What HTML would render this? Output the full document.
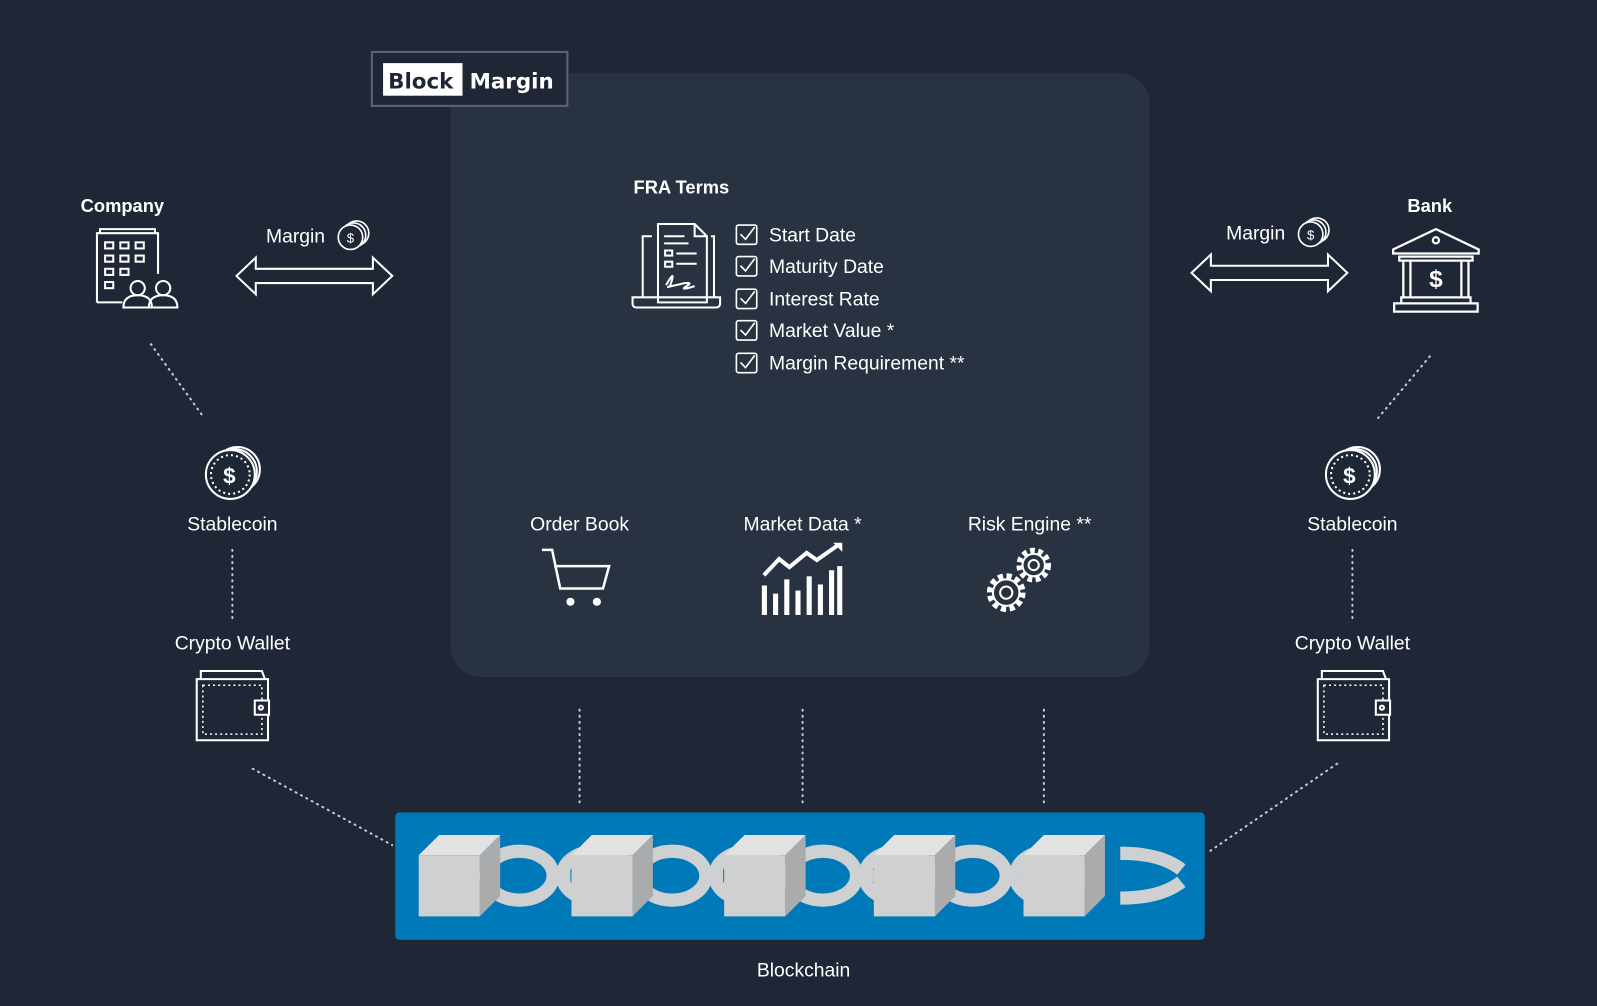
<!DOCTYPE html>
<html><head><meta charset="utf-8"><style>
html,body{margin:0;padding:0;background:#1f2736;}
svg{display:block}
text{font-family:"Liberation Sans",sans-serif;fill:#fff;}
</style></head><body>
<svg width="1597" height="1006" viewBox="0 0 1568 988" xmlns="http://www.w3.org/2000/svg">
<rect width="1568" height="988" fill="#1f2736"/>
<rect x="442" y="72" width="687" height="593" rx="30" fill="#283241"/>
<!-- logo -->
<rect x="365" y="51" width="192" height="53" fill="#1f2736" stroke="#5d6573" stroke-width="2"/>
<rect x="376" y="62" width="78" height="32" fill="#fff"/>
<text x="381" y="87" style="font-family:'DejaVu Sans',sans-serif;font-weight:bold;font-size:21px;fill:#1f2736">Block</text>
<text x="461" y="87" style="font-family:'DejaVu Sans',sans-serif;font-weight:bold;font-size:21px">Margin</text>

<g font-size="19">
<text x="622" y="190" font-weight="bold" font-size="18">FRA Terms</text>
<text x="79" y="208" font-weight="bold" font-size="18">Company</text>
<text x="1382" y="208" font-weight="bold" font-size="18">Bank</text>
<text x="261" y="238">Margin</text>
<text x="1204" y="235">Margin</text>
<g>
<text x="755" y="237">Start Date</text>
<text x="755" y="268">Maturity Date</text>
<text x="755" y="300">Interest Rate</text>
<text x="755" y="331">Market Value *</text>
<text x="755" y="363">Margin Requirement **</text>
</g>
<text x="228" y="521" text-anchor="middle">Stablecoin</text>
<text x="1328" y="521" text-anchor="middle">Stablecoin</text>
<text x="228" y="638" text-anchor="middle">Crypto Wallet</text>
<text x="1328" y="638" text-anchor="middle">Crypto Wallet</text>
<text x="569" y="521" text-anchor="middle">Order Book</text>
<text x="788" y="521" text-anchor="middle">Market Data *</text>
<text x="1011" y="521" text-anchor="middle">Risk Engine **</text>
<text x="789" y="959" text-anchor="middle">Blockchain</text>
</g>

<!-- checkboxes -->
<g fill="none" stroke="#fff" stroke-width="1.6">
<rect x="723" y="221" width="20" height="19" rx="2"/>
<rect x="723" y="252" width="20" height="19" rx="2"/>
<rect x="723" y="284" width="20" height="19" rx="2"/>
<rect x="723" y="315" width="20" height="19" rx="2"/>
<rect x="723" y="347" width="20" height="19" rx="2"/>
<path d="M727 230l5 5 9-12M727 261l5 5 9-12M727 293l5 5 9-12M727 324l5 5 9-12M727 356l5 5 9-12"/>
</g>

<!-- document laptop icon -->
<g fill="none" stroke="#fff" stroke-width="2">
<path d="M646 220h36l12 12v65h-48z"/>
<path d="M682 220v12h12"/>
<path d="M640 232h-9v60M698 232h3v60"/>
<path d="M621 292h86v6q0 4-4 4h-78q-4 0-4-4z"/>
<path d="M652 232h20M652 239h24M653 246h7v5h-7zM664 249h20M653 257h7v5h-7zM664 259h20M654 280q8-14 6-6t-4 8 12-3 6 2 8 0"/>
</g>

<!-- building -->
<g fill="none" stroke="#fff" stroke-width="2">
<path d="M95 297v-68h60v40M98 229v-4h54v4"/>
<rect x="103" y="238" width="8" height="6"/><rect x="118" y="238" width="8" height="6"/><rect x="133" y="238" width="8" height="6"/>
<rect x="103" y="251" width="8" height="6"/><rect x="118" y="251" width="8" height="6"/><rect x="133" y="251" width="8" height="6"/>
<rect x="103" y="264" width="8" height="6"/><rect x="118" y="264" width="8" height="6"/>
<rect x="103" y="277" width="8" height="6"/>
<path d="M95 297h25"/>
<circle cx="135" cy="283" r="7"/><path d="M121 302q0-12 14-12t14 12z"/>
<circle cx="160" cy="283" r="7"/><path d="M146 302q0-12 14-12t14 12z"/>
</g>

<!-- bank -->
<g fill="none" stroke="#fff" stroke-width="2.2">
<path d="M1368 245l42-20 42 20v4h-84z"/>
<circle cx="1410" cy="236" r="3"/>
<path d="M1374 252h72v4h-72zM1378 256v36M1385 256v36M1435 256v36M1442 256v36"/>
<path d="M1376 292h68v6h-68zM1369 298h82v8h-82z"/>
</g>
<text x="1410" y="282" text-anchor="middle" font-size="24" font-weight="bold">$</text>

<!-- coins small -->
<g fill="none" stroke="#fff" stroke-width="1.6">
<circle cx="350" cy="229" r="12"/><circle cx="347" cy="231" r="12" fill="#1f2736"/><circle cx="344" cy="233" r="12" fill="#1f2736"/>
<circle cx="1293" cy="226" r="12"/><circle cx="1290" cy="228" r="12" fill="#1f2736"/><circle cx="1287" cy="230" r="12" fill="#1f2736"/>
</g>
<text x="344" y="238" text-anchor="middle" font-size="13">$</text>
<text x="1287" y="235" text-anchor="middle" font-size="13">$</text>

<!-- double arrows -->
<g fill="none" stroke="#fff" stroke-width="2">
<path d="M232 271l19-18v11h115v-11l19 18-19 18v-11h-115v11z"/>
<path d="M1170 268l19-18v11h115v-11l19 18-19 18v-11h-115v11z"/>
</g>

<!-- big coins -->
<g fill="none" stroke="#fff" stroke-width="2">
<circle cx="233" cy="461" r="22"/><circle cx="230" cy="463" r="22" fill="#1f2736"/><circle cx="226" cy="466" r="24" fill="#1f2736"/>
<circle cx="226" cy="466" r="19" stroke-dasharray="2 3"/>
<circle cx="1333" cy="461" r="22"/><circle cx="1330" cy="463" r="22" fill="#1f2736"/><circle cx="1326" cy="466" r="24" fill="#1f2736"/>
<circle cx="1326" cy="466" r="19" stroke-dasharray="2 3"/>
</g>
<text x="225" y="475" text-anchor="middle" font-size="22" font-weight="bold">$</text>
<text x="1325" y="475" text-anchor="middle" font-size="22" font-weight="bold">$</text>

<!-- wallets -->
<g fill="none" stroke="#fff" stroke-width="2">
<path d="M193 667h70v60h-70zM197 667v-8h60l3 8"/>
<rect x="199" y="673" width="58" height="48" stroke-dasharray="2 3" stroke-width="1.5"/>
<path d="M250 688h14v14h-14z" fill="#1f2736"/><circle cx="256" cy="695" r="2"/>
<path d="M1294 667h70v60h-70zM1298 667v-8h60l3 8"/>
<rect x="1300" y="673" width="58" height="48" stroke-dasharray="2 3" stroke-width="1.5"/>
<path d="M1351 688h14v14h-14z" fill="#1f2736"/><circle cx="1357" cy="695" r="2"/>
</g>

<!-- cart -->
<g fill="none" stroke="#fff" stroke-width="2.5">
<path d="M532 540h10l8 38h42l6-22h-54"/>
</g>
<circle cx="560" cy="591" r="4" fill="#fff"/><circle cx="586" cy="591" r="4" fill="#fff"/>

<!-- chart -->
<g fill="#fff">
<rect x="748" y="575" width="5" height="29"/><rect x="759" y="583" width="5" height="21"/>
<rect x="770" y="569" width="5" height="35"/><rect x="781" y="580" width="5" height="24"/>
<rect x="792" y="566" width="5" height="38"/><rect x="803" y="574" width="5" height="30"/>
<rect x="814" y="560" width="5" height="44"/><rect x="822" y="556" width="5" height="48"/>
</g>
<path d="M750 565l15-16 10 8 17-14 10 7 20-14" fill="none" stroke="#fff" stroke-width="4"/>
<path d="M818 533h9v9z" fill="#fff"/>

<!-- gears -->
<g fill="none" stroke="#fff">
<circle cx="988" cy="582" r="16" stroke-dasharray="5 3.4" stroke-width="6"/>
<circle cx="988" cy="582" r="13" stroke-width="2"/>
<circle cx="988" cy="582" r="6" stroke-width="2"/>
<circle cx="1015" cy="555" r="14" stroke-dasharray="4.5 3.3" stroke-width="6"/>
<circle cx="1015" cy="555" r="11" stroke-width="2"/>
<circle cx="1015" cy="555" r="5" stroke-width="2"/>
</g>

<!-- dotted connectors -->
<g stroke="#c8ccd2" stroke-width="2" stroke-dasharray="1 5" stroke-linecap="round" fill="none">
<path d="M148 338L200 410M228 540V608M248 755L385 830"/>
<path d="M1404 350L1352 412M1328 540V608M1313 750L1185 838"/>
<path d="M569 697V792M788 697V792M1025 697V792"/>
</g>

<!-- blockchain -->
<rect x="388" y="798" width="795" height="125" rx="4" fill="#0079b8"/>
<g fill="none" stroke="#cfd0d2" stroke-width="13">
<ellipse cx="510" cy="860" rx="33" ry="24"/><ellipse cx="585" cy="860" rx="33" ry="24"/>
<ellipse cx="660" cy="860" rx="33" ry="24"/><ellipse cx="735" cy="860" rx="33" ry="24"/>
<ellipse cx="808" cy="860" rx="33" ry="24"/><ellipse cx="882" cy="860" rx="33" ry="24"/>
<ellipse cx="955" cy="860" rx="33" ry="24"/><ellipse cx="1030" cy="860" rx="33" ry="24"/>
<path d="M1100 838q40 0 60 16M1100 882q40 0 60-16"/>
</g>
<g fill="#cfd0d2"><rect x="540" y="854" width="20" height="12"/><rect x="690" y="854" width="20" height="12"/><rect x="838" y="854" width="20" height="12"/><rect x="985" y="854" width="20" height="12"/></g>
<g id="cubes">
<g transform="translate(411,0)"><path d="M0 840l20-20h60l-20 20z" fill="#e2e2e2"/><path d="M60 840l20-20v60l-20 20z" fill="#a9abad"/><rect x="0" y="840" width="60" height="60" fill="#d0d0d0"/></g>
<g transform="translate(561,0)"><path d="M0 840l20-20h60l-20 20z" fill="#e2e2e2"/><path d="M60 840l20-20v60l-20 20z" fill="#a9abad"/><rect x="0" y="840" width="60" height="60" fill="#d0d0d0"/></g>
<g transform="translate(711,0)"><path d="M0 840l20-20h60l-20 20z" fill="#e2e2e2"/><path d="M60 840l20-20v60l-20 20z" fill="#a9abad"/><rect x="0" y="840" width="60" height="60" fill="#d0d0d0"/></g>
<g transform="translate(858,0)"><path d="M0 840l20-20h60l-20 20z" fill="#e2e2e2"/><path d="M60 840l20-20v60l-20 20z" fill="#a9abad"/><rect x="0" y="840" width="60" height="60" fill="#d0d0d0"/></g>
<g transform="translate(1005,0)"><path d="M0 840l20-20h60l-20 20z" fill="#e2e2e2"/><path d="M60 840l20-20v60l-20 20z" fill="#a9abad"/><rect x="0" y="840" width="60" height="60" fill="#d0d0d0"/></g>
</g>
</svg>
</body></html>
